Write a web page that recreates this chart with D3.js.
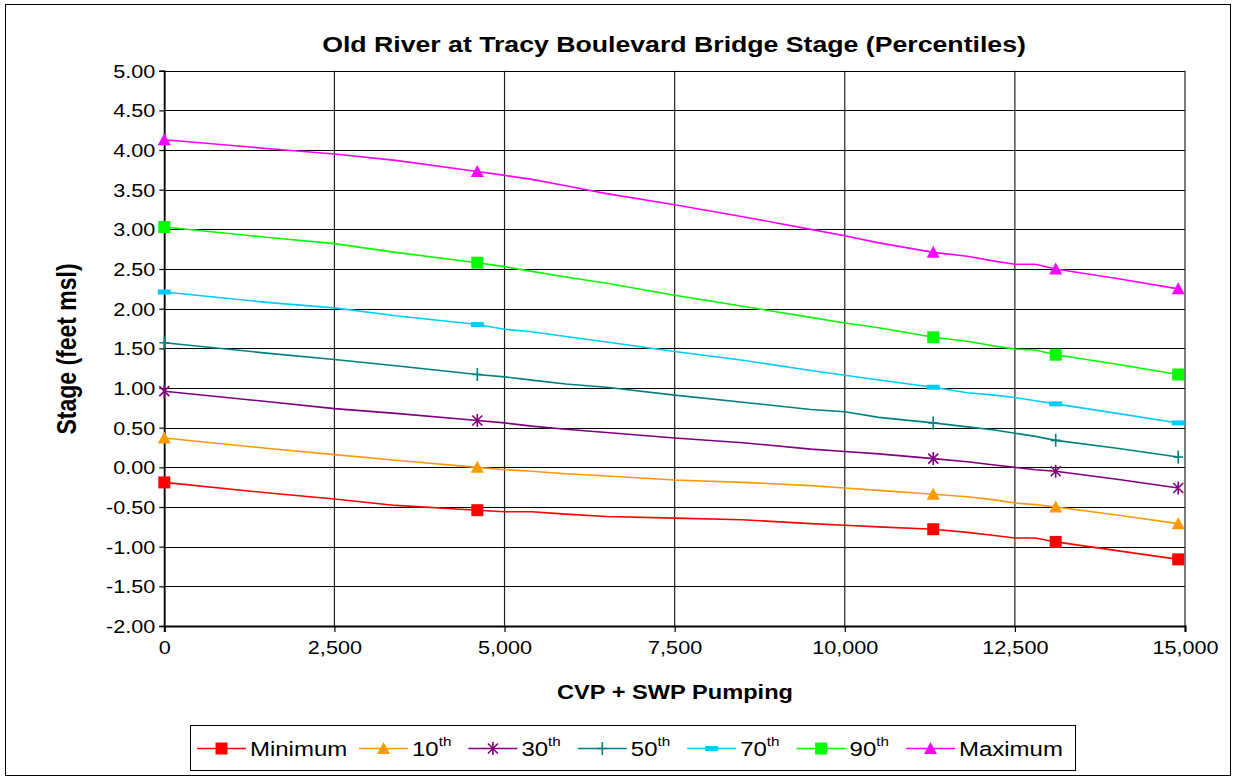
<!DOCTYPE html>
<html>
<head>
<meta charset="utf-8">
<script src="https://cdn.jsdelivr.net/npm/d3@7"></script>
<style>
  body { margin: 0; background: #fff; }
  text { font-family: Arial, "Liberation Sans", sans-serif; fill: #000; }
</style>
</head>
<body>
<svg id="chart" width="1233" height="778"></svg>
<script>
// Pumping rates (cfs) where each percentile curve is sampled
const pumping = [0, 1500, 2500, 3400, 4600, 5000, 5400, 5900, 6500, 7500, 8500, 9500,
                 10000, 10500, 11300, 11800, 12200, 12500, 12800, 13100, 14000, 14900];
// Pumping rates that carry a marker symbol
const markerPumping = [0, 4600, 11300, 13100, 14900];

// Stage (feet msl) for each percentile, one value per pumping rate
const stageMinimum = [-0.19, -0.32, -0.40, -0.48, -0.54, -0.56, -0.56, -0.59, -0.62, -0.64, -0.66, -0.71,
                      -0.73, -0.75, -0.78, -0.82, -0.86, -0.89, -0.89, -0.94, -1.05, -1.16];
const stageP10 = [0.37, 0.24, 0.16, 0.09, 0.00, -0.03, -0.05, -0.08, -0.11, -0.16, -0.19, -0.23,
                  -0.26, -0.29, -0.34, -0.37, -0.41, -0.45, -0.47, -0.50, -0.60, -0.71];
const stageP30 = [0.96, 0.83, 0.74, 0.68, 0.59, 0.56, 0.52, 0.48, 0.44, 0.37, 0.31, 0.23,
                  0.20, 0.17, 0.11, 0.07, 0.03, 0.00, -0.03, -0.05, -0.15, -0.26];
const stageP50 = [1.57, 1.44, 1.36, 1.28, 1.17, 1.14, 1.10, 1.05, 1.01, 0.91, 0.82, 0.73,
                  0.70, 0.63, 0.56, 0.51, 0.47, 0.43, 0.39, 0.34, 0.24, 0.13];
const stageP70 = [2.21, 2.08, 2.01, 1.91, 1.80, 1.74, 1.71, 1.65, 1.58, 1.46, 1.35, 1.22,
                  1.16, 1.10, 1.01, 0.94, 0.91, 0.88, 0.84, 0.80, 0.68, 0.56];
const stageP90 = [3.03, 2.90, 2.82, 2.71, 2.58, 2.53, 2.47, 2.40, 2.32, 2.17, 2.03, 1.89,
                  1.82, 1.76, 1.64, 1.59, 1.53, 1.49, 1.48, 1.42, 1.30, 1.17];
const stageMaximum = [4.13, 4.02, 3.95, 3.87, 3.73, 3.68, 3.63, 3.55, 3.45, 3.31, 3.16, 3.00,
                      2.92, 2.83, 2.71, 2.66, 2.60, 2.56, 2.56, 2.50, 2.38, 2.25];

const seriesLabels = ["Minimum", "10th", "30th", "50th", "70th", "90th", "Maximum"];
const seriesColors = ["#FF0000", "#FF9900", "#800080", "#008080", "#00CCFF", "#00FF00", "#FF00FF"];
const seriesSymbols = ["square", "triangle", "asterisk", "plus", "dash", "square", "triangle"];
const seriesValues = [stageMinimum, stageP10, stageP30, stageP50, stageP70, stageP90, stageMaximum];

const yTickValues = [5, 4.5, 4, 3.5, 3, 2.5, 2, 1.5, 1, 0.5, 0, -0.5, -1, -1.5, -2];
const xTickValues = [0, 2500, 5000, 7500, 10000, 12500, 15000];

const titleText = "Old River at Tracy Boulevard Bridge Stage (Percentiles)";
const xTitleText = "CVP + SWP Pumping";
const yTitleText = "Stage (feet msl)";

// ---- layout ----
const SX = 1.17;               // horizontal text stretch
const plot = { left: 164.3, right: 1185, top: 70.7, bottom: 626 };

const svg = d3.select("#chart");
const x = d3.scaleLinear().domain([0, 15000]).range([plot.left, plot.right]);
const y = d3.scaleLinear().domain([-2, 5]).range([plot.bottom, plot.top]);

const fmtY = d => d.toFixed(2);              // plain hyphen for negatives
const fmtX = d3.format(",");

function stretched(parent, px, py, str, opts = {}) {
  return parent.append("text")
    .attr("transform", `translate(${px},${py}) scale(${SX},1)` + (opts.rotate ? ` rotate(${opts.rotate})` : ""))
    .attr("text-anchor", opts.anchor || "start")
    .style("font-size", (opts.size || 18) + "px")
    .style("font-weight", opts.bold ? "bold" : "normal")
    .text(str);
}

// outer chart frame
svg.append("rect")
  .attr("x", 5.5).attr("y", 4.5).attr("width", 1225).attr("height", 771)
  .attr("fill", "#fff").attr("stroke", "#000").attr("stroke-width", 1);

// gridlines
const grid = svg.append("g");
grid.selectAll("line.h").data(yTickValues).join("line")
  .attr("x1", plot.left).attr("x2", plot.right)
  .attr("y1", d => Math.round(y(d)) + 0.5).attr("y2", d => Math.round(y(d)) + 0.5)
  .attr("stroke", "#000").attr("stroke-width", 1);
grid.selectAll("line.v").data(xTickValues).join("line")
  .attr("y1", plot.top).attr("y2", plot.bottom)
  .attr("x1", d => x(d)).attr("x2", d => x(d))
  .attr("stroke", "#222").attr("stroke-width", 1.2);

// axes
const yAxis = d3.axisLeft(y).tickValues(yTickValues).tickSize(5).tickFormat(fmtY);
const xAxis = d3.axisBottom(x).tickValues(xTickValues).tickSize(6).tickFormat(fmtX);

const gy = svg.append("g").attr("transform", `translate(${plot.left},0)`).call(yAxis);
gy.select(".domain").attr("stroke", "#000").attr("stroke-width", 1.6);
gy.selectAll(".tick line").attr("stroke", "#000").attr("stroke-width", 1.2);
gy.selectAll(".tick text").remove();
gy.selectAll(".tick").each(function (d) {
  stretched(d3.select(this), -9, 6.5, fmtY(d), { anchor: "end", size: 18.5 });
});

const gx = svg.append("g").attr("transform", `translate(0,${plot.bottom})`).call(xAxis);
gx.select(".domain").attr("stroke", "#000").attr("stroke-width", 2);
gx.selectAll(".tick line").attr("stroke", "#000").attr("stroke-width", 1.2);
gx.selectAll(".tick text").remove();
gx.selectAll(".tick").each(function (d) {
  stretched(d3.select(this), 0, 28, fmtX(d), { anchor: "middle", size: 18.5 });
});

// titles
stretched(svg, 674, 52, titleText, { anchor: "middle", size: 22.8, bold: true });
stretched(svg, 675, 699, xTitleText, { anchor: "middle", size: 20.2, bold: true });
stretched(svg, 76, 349, yTitleText, { anchor: "middle", size: 23, bold: true, rotate: -90 });

// marker symbol paths
function symbolPath(kind) {
  switch (kind) {
    case "square": return "M-6,-6H6V6H-6Z";
    case "triangle": return "M0,-6.5L6.5,5.5H-6.5Z";
    case "asterisk": return "M-5,-5L5,5M-5,5L5,-5M0,-6.5V6.5";
    case "plus": return "M0,-6.5V6.5M-5,0H5";
    case "dash": return "M-6.5,-2.5H6.5V2.5H-6.5Z";
  }
}
function drawSymbol(g, kind, color) {
  const filled = kind === "square" || kind === "triangle" || kind === "dash";
  g.append("path").attr("d", symbolPath(kind))
    .attr("fill", filled ? color : "none")
    .attr("stroke", color)
    .attr("stroke-width", filled ? 0 : 1.6);
}

// series lines and markers
const line = d3.line().x(d => x(d[0])).y(d => y(d[1]));
seriesValues.forEach((vals, i) => {
  const pts = pumping.map((p, j) => [p, vals[j]]);
  svg.append("path").datum(pts)
    .attr("d", line).attr("fill", "none")
    .attr("stroke", seriesColors[i]).attr("stroke-width", 1.6);
  pts.filter(p => markerPumping.includes(p[0])).forEach(p => {
    const g = svg.append("g").attr("transform", `translate(${x(p[0])},${y(p[1])})`);
    drawSymbol(g, seriesSymbols[i], seriesColors[i]);
  });
});

// legend: each entry is a short line with its symbol, then the label
const legend = svg.append("g");
const legY = 748.5;
const legLeft = 190.5, legRight = 1075.5;
const firstStep = 162, entryStep = 109.4;
legend.append("rect").attr("x", legLeft).attr("y", 725.5)
  .attr("width", legRight - legLeft).attr("height", 45)
  .attr("fill", "#fff").attr("stroke", "#000").attr("stroke-width", 1);
let cx = 197;
seriesLabels.forEach((lab, i) => {
  legend.append("line").attr("x1", cx).attr("x2", cx + 49).attr("y1", legY).attr("y2", legY)
    .attr("stroke", seriesColors[i]).attr("stroke-width", 1.6);
  const g = legend.append("g").attr("transform", `translate(${cx + 24.5},${legY})`);
  drawSymbol(g, seriesSymbols[i], seriesColors[i]);
  const m = lab.match(/^(\d+)(th)$/);
  const t = stretched(legend, cx + 53, legY + 7, m ? m[1] : lab, { size: 20.5 });
  if (m) {
    t.append("tspan").attr("dy", -10).style("font-size", "13px").text(m[2]);
  }
  cx += (i === 0 ? firstStep : entryStep);
});
</script>
</body>
</html>
